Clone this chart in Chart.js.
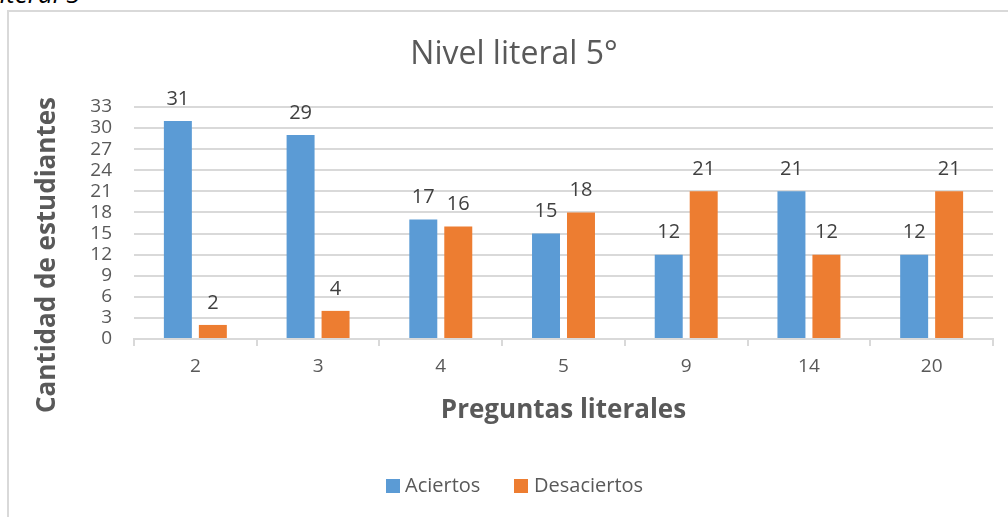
<!DOCTYPE html>
<html><head><meta charset="utf-8">
<script src="https://cdn.jsdelivr.net/npm/chart.js@4"></script>
<style>
html,body{margin:0;padding:0;background:#fff;overflow:hidden;}
#wrap{position:relative;width:1008px;height:517px;overflow:hidden;}
#frame{position:absolute;left:7px;top:10px;width:1010px;height:520px;border-left:2px solid #d9d9d9;border-top:2px solid #d9d9d9;box-sizing:border-box;}
#cap{position:absolute;left:-70px;top:-25px;font:italic 26px "Open Sans",sans-serif;color:#000;white-space:nowrap;}
canvas{position:absolute;left:0;top:0;}
</style></head>
<body><div id="wrap"><div id="cap">Nivel literal 5</div><div id="frame"></div><canvas id="c" width="1008" height="517"></canvas></div>
<script>
const categories = ["2","3","4","5","9","14","20"];
const aciertos = [31,29,17,15,12,21,12];
const desaciertos = [2,4,16,18,21,12,21];
const yTicks = [0,3,6,9,12,15,18,21,24,27,30,33];
const seriesNames = ["Aciertos","Desaciertos"];
const chartTitle = "Nivel literal 5°";
const yTitle = "Cantidad de estudiantes";
const xTitle = "Preguntas literales";

const FONT = '"Open Sans", sans-serif';
const BLUE = '#5B9BD5', ORANGE = '#ED7D31';

const decor = {
  id:'decor',
  afterDatasetsDraw(chart){
    const ctx = chart.ctx, a = chart.chartArea;
    ctx.save();
    ctx.fillStyle = '#404040';
    ctx.font = '20px ' + FONT;
    ctx.textAlign = 'center';
    ctx.textBaseline = 'bottom';
    chart.data.datasets.forEach((ds,i)=>{
      chart.getDatasetMeta(i).data.forEach((bar,j)=>{
        ctx.fillText(String(ds.data[j]), bar.x, bar.y - 12);
      });
    });
    ctx.fillStyle = '#595959';
    ctx.font = '32px ' + FONT;
    ctx.textBaseline = 'middle';
    ctx.fillText(chartTitle, 514, 55);
    ctx.font = 'bold 26px ' + FONT;
    ctx.fillText(xTitle, (a.left + a.right)/2, 411);
    ctx.save();
    ctx.translate(48, 255);
    ctx.rotate(-Math.PI/2);
    ctx.fillText(yTitle, 0, 0);
    ctx.restore();
    ctx.font = '20px ' + FONT;
    ctx.textAlign = 'left';
    const ly = 486;
    ctx.fillStyle = BLUE; ctx.fillRect(386, ly-7, 14, 14);
    ctx.fillStyle = '#595959'; ctx.fillText(seriesNames[0], 405, ly);
    ctx.fillStyle = ORANGE; ctx.fillRect(514, ly-7, 14, 14);
    ctx.fillStyle = '#595959'; ctx.fillText(seriesNames[1], 534, ly);
    ctx.restore();
  }
};

new Chart(document.getElementById('c'), {
  type:'bar',
  data:{
    labels: categories,
    datasets:[
      {label:seriesNames[0], data:aciertos, backgroundColor:BLUE, categoryPercentage:0.57, barPercentage:0.8},
      {label:seriesNames[1], data:desaciertos, backgroundColor:ORANGE, categoryPercentage:0.57, barPercentage:0.8}
    ]
  },
  options:{
    responsive:false, animation:false, devicePixelRatio:1,
    layout:{padding:{left:0, top:107, right:15, bottom:128}},
    plugins:{legend:{display:false}, title:{display:false}, tooltip:{enabled:false}},
    scales:{
      x:{
        grid:{display:true, offset:true, drawOnChartArea:false, color:'#d9d9d9', tickLength:7, lineWidth:2},
        border:{display:true, color:'#d9d9d9', width:2},
        ticks:{color:'#595959', font:{family:FONT, size:19}, padding:9},
        afterFit(s){ s.height = 50; }
      },
      y:{
        min:0, max:33,
        afterBuildTicks(s){ s.ticks = yTicks.map(v=>({value:v})); },
        grid:{color:'#d9d9d9', lineWidth:2, drawTicks:false},
        border:{display:false},
        ticks:{color:'#595959', font:{family:FONT, size:19}, padding:22, autoSkip:false},
        afterFit(s){ s.width = 134; }
      }
    }
  },
  plugins:[decor]
});
</script></body></html>
